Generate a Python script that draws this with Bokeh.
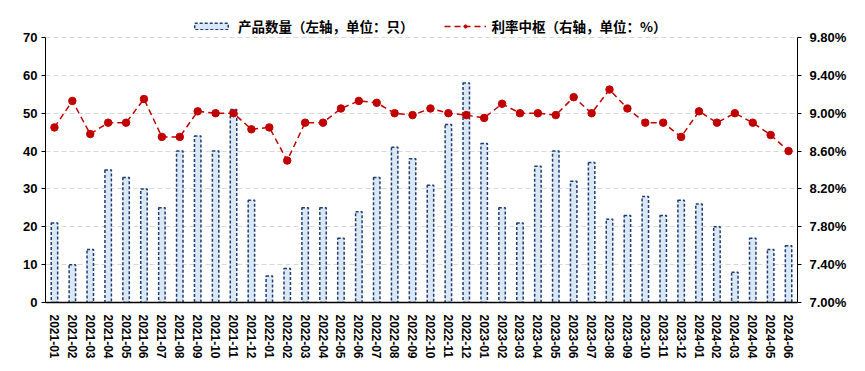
from bokeh.plotting import figure
from bokeh.models import (ColumnDataSource, FactorRange, Range1d, LinearAxis,
                          PrintfTickFormatter, Legend, LegendItem, FixedTicker)
from bokeh.embed import file_html
from bokeh.resources import INLINE

months = ["2021-01", "2021-02", "2021-03", "2021-04", "2021-05", "2021-06", "2021-07",
          "2021-08", "2021-09", "2021-10", "2021-11", "2021-12",
          "2022-01", "2022-02", "2022-03", "2022-04", "2022-05", "2022-06", "2022-07",
          "2022-08", "2022-09", "2022-10", "2022-11", "2022-12",
          "2023-01", "2023-02", "2023-03", "2023-04", "2023-05", "2023-06", "2023-07",
          "2023-08", "2023-09", "2023-10", "2023-11", "2023-12",
          "2024-01", "2024-02", "2024-03", "2024-04", "2024-05", "2024-06"]
product_count = [21, 10, 14, 35, 33, 30, 25, 40, 44, 40, 51, 27,
                 7, 9, 25, 25, 17, 24, 33, 41, 38, 31, 47, 58,
                 42, 25, 21, 36, 40, 32, 37, 22, 23, 28, 23, 27,
                 26, 20, 8, 17, 14, 15]
rate_center = [8.85, 9.13, 8.78, 8.90, 8.90, 9.15, 8.75, 8.75, 9.02, 9.00, 9.00, 8.83,
               8.85, 8.50, 8.90, 8.90, 9.05, 9.13, 9.11, 9.00, 8.98, 9.05, 9.00, 8.98,
               8.95, 9.10, 9.00, 9.00, 8.98, 9.17, 9.00, 9.25, 9.05, 8.90, 8.90, 8.75,
               9.02, 8.90, 9.00, 8.90, 8.77, 8.60]
left_ticks = [0, 10, 20, 30, 40, 50, 60, 70]
right_ticks = [7.0, 7.4, 7.8, 8.2, 8.6, 9.0, 9.4, 9.8]
legend_labels = ["产品数量（左轴，单位：只）", "利率中枢（右轴，单位：%）"]

src = ColumnDataSource(dict(m=months, cnt=product_count, rate=rate_center))

FONT = "Liberation Sans"
CJK = "Noto Sans CJK SC"

# layout (pixels): frame spans from top border to bottom border; axes occupy lower part
W, H = 849, 361
B_TOP, B_BOT, B_LEFT, B_RIGHT = 8, 59, 45, 48
AXIS_PX = 265  # pixel height of the 0..70 axis span
frame_h = H - B_TOP - B_BOT
L_LO, L_HI = left_ticks[0], left_ticks[-1]
R_LO, R_HI = right_ticks[0], right_ticks[-1]
scale = frame_h / AXIS_PX
left_top = L_LO + (L_HI - L_LO) * scale
right_top = R_LO + (R_HI - R_LO) * scale

p = figure(width=W, height=H, x_range=FactorRange(*months), y_range=Range1d(L_LO, left_top),
           output_backend="svg", toolbar_location=None,
           min_border_left=B_LEFT, min_border_right=B_RIGHT, min_border_top=B_TOP,
           min_border_bottom=B_BOT)
p.outline_line_color = None
p.extra_y_ranges = {"rate": Range1d(R_LO, right_top)}
p.x_range.range_padding = 0

bars = p.vbar(x="m", top="cnt", width=0.36, source=src, fill_color="#dae8f6",
              line_color="#1f3b73", line_width=1.5, line_dash="3 2")
line = p.line(x="m", y="rate", source=src, y_range_name="rate", line_color="#c00000",
              line_width=1.5, line_dash="6 4")
dots = p.scatter(x="m", y="rate", source=src, y_range_name="rate", size=7.5,
                 fill_color="#c00000", line_color="#c00000")

# grid
p.xgrid.grid_line_color = None
p.ygrid.grid_line_color = "#d9d9d9"
p.ygrid.grid_line_dash = "5 3"
p.ygrid.grid_line_width = 1

# left axis
ya = p.yaxis[0]
ya.ticker = FixedTicker(ticks=left_ticks)
ya.bounds = (L_LO, L_HI)
ya.minor_tick_line_color = None
ya.major_tick_in = 0
ya.major_tick_out = 4
ya.major_label_standoff = 4
ya.major_label_text_font = FONT
ya.major_label_text_font_style = "bold"
ya.major_label_text_font_size = "13px"
ya.major_label_text_color = "#000000"
ya.axis_line_color = "#000000"

# right axis
ra = LinearAxis(y_range_name="rate", ticker=FixedTicker(ticks=right_ticks),
                formatter=PrintfTickFormatter(format="%.2f%%"), bounds=(R_LO, R_HI))
ra.minor_tick_line_color = None
ra.major_tick_in = 0
ra.major_tick_out = 4
ra.major_label_standoff = 8
ra.major_label_text_font = FONT
ra.major_label_text_font_style = "bold"
ra.major_label_text_font_size = "13px"
ra.major_label_text_color = "#000000"
ra.axis_line_color = "#000000"
p.add_layout(ra, "right")

# x axis
xa = p.xaxis[0]
xa.major_label_orientation = "vertical"
xa.major_tick_line_color = None
xa.minor_tick_line_color = None
xa.major_label_standoff = 6
xa.major_label_text_font = FONT
xa.major_label_text_font_style = "bold"
xa.major_label_text_font_size = "12px"
xa.major_label_text_color = "#000000"
xa.axis_line_color = "#000000"
xa.axis_line_width = 1.5

legend = Legend(items=[LegendItem(label=legend_labels[0], renderers=[bars]),
                       LegendItem(label=legend_labels[1], renderers=[line, dots])],
                orientation="horizontal", location=(145, 266),
                background_fill_alpha=0, border_line_color=None,
                label_text_font=CJK, label_text_font_style="bold",
                label_text_font_size="13.5px", label_text_color="#000000",
                glyph_width=42, glyph_height=8, label_height=16, label_standoff=6,
                spacing=30, padding=0, margin=0)
p.add_layout(legend, "center")

open("out.html", "w").write(file_html(p, INLINE))
